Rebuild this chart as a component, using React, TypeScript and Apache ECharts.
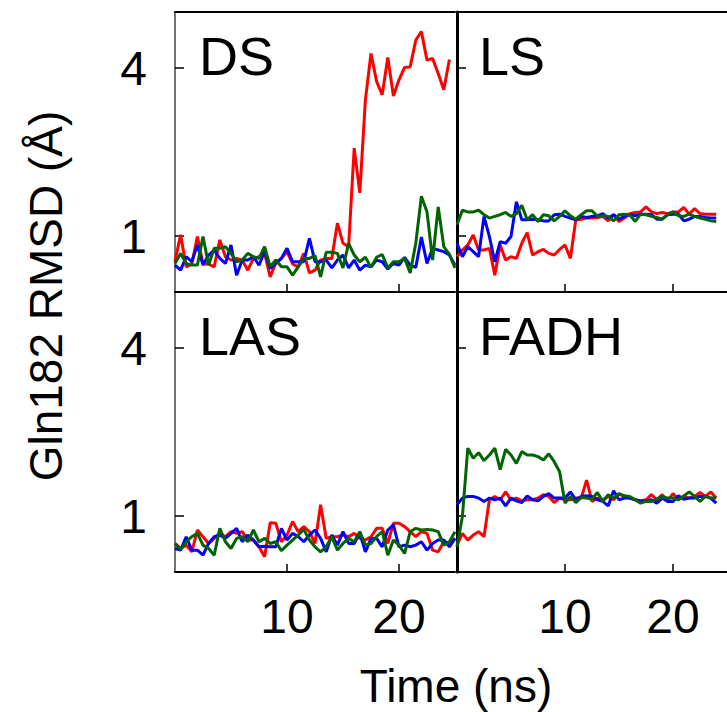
import React, { useEffect, useRef } from "react";
import * as echarts from "echarts";

// Time (ns), 0.5 ns sampling
const time = [
  0, 0.5, 1, 1.5, 2, 2.5, 3, 3.5, 4, 4.5, 5, 5.5, 6, 6.5, 7, 7.5, 8, 8.5, 9, 9.5,
  10, 10.5, 11, 11.5, 12, 12.5, 13, 13.5, 14, 14.5, 15, 15.5, 16, 16.5, 17, 17.5,
  18, 18.5, 19, 19.5, 20, 20.5, 21, 21.5, 22, 22.5, 23, 23.5, 24, 24.5, 25,
];

const xTicks = [10, 20];
const yTicks = [1, 4];
const panelNames = ["DS", "LS", "LAS", "FADH"];

// DS
const dsRed = [
  0.55, 1.02, 0.45, 0.5, 0.99, 0.5, 0.5, 0.45, 0.93, 0.63,
  0.57, 0.6, 0.57, 0.39, 0.6, 0.63, 0.69, 0.27, 0.52, 0.6,
  0.72, 0.5, 0.45, 0.69, 0.34, 0.39, 0.57, 0.6, 0.6, 1.23,
  0.87, 0.81, 2.57, 1.77, 3.43, 4.26, 3.76, 3.52, 4.19, 3.5,
  3.79, 4.01, 4.02, 4.5, 4.65, 4.14, 4.17, 3.9, 3.61, 4.15,
];
const dsBlue = [
  0.48, 0.39, 0.63, 0.54, 0.84, 0.48, 0.66, 0.75, 0.6, 0.51,
  0.84, 0.3, 0.57, 0.57, 0.63, 0.48, 0.72, 0.42, 0.51, 0.6,
  0.78, 0.54, 0.54, 0.54, 0.96, 0.54, 0.54, 0.57, 0.43, 0.57,
  0.66, 0.43, 0.57, 0.39, 0.48, 0.45, 0.57, 0.54, 0.41, 0.51,
  0.48, 0.62, 0.48, 0.44, 0.98, 0.51, 0.78, 0.75, 0.72, 0.66,
  0.48,
];
const dsGreen = [
  0.51, 0.69, 0.51, 0.48, 0.48, 0.99, 0.48, 0.78, 0.78, 0.81,
  0.69, 0.54, 0.57, 0.69, 0.63, 0.6, 0.81, 0.45, 0.57, 0.45,
  0.45, 0.3, 0.45, 0.6, 0.6, 0.65, 0.27, 0.71, 0.71, 0.69,
  0.43, 0.87, 0.66, 0.54, 0.62, 0.44, 0.62, 0.67, 0.43, 0.54,
  0.54, 0.6, 0.34, 0.87, 1.71, 1.43, 0.57, 1.52, 0.81, 0.67,
  0.43,
];

// LS
const lsRed = [
  0.63, 0.75, 0.84, 1.02, 0.75, 0.75, 0.78, 0.3, 0.84, 0.57,
  0.63, 0.6, 0.87, 1.06, 0.66, 0.72, 0.76, 0.69, 0.66, 0.76,
  0.84, 0.6, 1.29, 1.3, 1.32, 1.32, 1.33, 1.35, 1.27, 1.38,
  1.26, 1.32, 1.4, 1.42, 1.43, 1.52, 1.43, 1.4, 1.42, 1.4,
  1.43, 1.43, 1.51, 1.39, 1.49, 1.4, 1.39, 1.39, 1.39,
];
const lsBlue = [
  0.87, 0.63, 0.81, 0.72, 0.63, 1.35, 0.99, 0.54, 0.9, 0.87,
  0.99, 1.61, 1.29, 1.29, 1.3, 1.29, 1.27, 1.27, 1.38, 1.39,
  1.35, 1.32, 1.29, 1.35, 1.33, 1.35, 1.36, 1.4, 1.32, 1.38,
  1.3, 1.35, 1.38, 1.36, 1.39, 1.39, 1.38, 1.3, 1.3, 1.38,
  1.39, 1.39, 1.27, 1.3, 1.35, 1.35, 1.33, 1.32, 1.32,
];
const lsGreen = [
  1.2, 1.46, 1.43, 1.43, 1.46, 1.38, 1.32, 1.35, 1.38, 1.42,
  1.35, 1.4, 1.55, 1.29, 1.38, 1.26, 1.38, 1.36, 1.27, 1.35,
  1.45, 1.36, 1.3, 1.38, 1.45, 1.45, 1.35, 1.36, 1.35, 1.27,
  1.38, 1.39, 1.38, 1.26, 1.39, 1.38, 1.35, 1.33, 1.3, 1.38,
  1.43, 1.36, 1.35, 1.39, 1.35, 1.32, 1.3, 1.27, 1.26,
];

// LAS
const lasRed = [
  0.51, 0.42, 0.48, 0.36, 0.75, 0.63, 0.51, 0.6, 0.69, 0.63,
  0.72, 0.69, 0.72, 0.57, 0.57, 0.45, 0.27, 0.88, 0.87, 0.54,
  0.66, 0.9, 0.72, 0.81, 0.72, 0.51, 1.2, 0.6, 0.63, 0.63,
  0.66, 0.63, 0.69, 0.6, 0.57, 0.63, 0.78, 0.78, 0.51, 0.87,
  0.87, 0.81, 0.72, 0.63, 0.72, 0.69, 0.39, 0.36, 0.54, 0.51,
  0.6,
];
const lasBlue = [
  0.42, 0.39, 0.63, 0.39, 0.39, 0.3, 0.51, 0.63, 0.66, 0.6,
  0.69, 0.78, 0.54, 0.66, 0.57, 0.45, 0.46, 0.45, 0.45, 0.78,
  0.57, 0.69, 0.63, 0.54, 0.66, 0.75, 0.6, 0.36, 0.66, 0.48,
  0.72, 0.51, 0.51, 0.69, 0.36, 0.6, 0.6, 0.45, 0.75, 0.84,
  0.45, 0.48, 0.45, 0.48, 0.54, 0.39, 0.51, 0.57, 0.57, 0.45,
  0.6,
];
const lasGreen = [
  0.51, 0.4, 0.54, 0.63, 0.69, 0.48, 0.42, 0.3, 0.78, 0.54,
  0.42, 0.6, 0.63, 0.54, 0.75, 0.54, 0.6, 0.51, 0.54, 0.38,
  0.48, 0.57, 0.66, 0.76, 0.57, 0.45, 0.36, 0.45, 0.63, 0.39,
  0.51, 0.6, 0.54, 0.72, 0.48, 0.51, 0.63, 0.72, 0.3, 0.57,
  0.48, 0.33, 0.72, 0.78, 0.75, 0.76, 0.75, 0.72, 0.48, 0.54,
  0.72,
];

// FADH
const fadhRed = [
  0.48, 0.69, 0.57, 0.66, 0.72, 0.63, 1.29, 1.35, 1.29, 1.43,
  1.29, 1.32, 1.27, 1.29, 1.29, 1.32, 1.38, 1.35, 1.24, 1.32,
  1.29, 1.29, 1.32, 1.32, 1.64, 1.26, 1.32, 1.29, 1.35, 1.29,
  1.39, 1.35, 1.32, 1.29, 1.27, 1.29, 1.38, 1.29, 1.38, 1.27,
  1.4, 1.29, 1.35, 1.32, 1.35, 1.42, 1.35, 1.43, 1.32,
];
const fadhBlue = [
  1.2, 1.32, 1.35, 1.35, 1.32, 1.26, 1.32, 1.29, 1.32, 1.18,
  1.32, 1.27, 1.24, 1.36, 1.29, 1.27, 1.35, 1.4, 1.32, 1.32,
  1.32, 1.43, 1.29, 1.35, 1.36, 1.35, 1.29, 1.26, 1.18, 1.45,
  1.29, 1.32, 1.32, 1.29, 1.27, 1.27, 1.29, 1.23, 1.32, 1.26,
  1.26, 1.36, 1.3, 1.32, 1.32, 1.35, 1.35, 1.32, 1.23,
];
const fadhGreen = [
  0.45, 0.99, 2.21, 2.03, 2.13, 1.99, 2.09, 2.21, 1.83, 2.19,
  2.09, 1.94, 2.15, 2.09, 2.09, 2.06, 2.0, 2.11, 1.97, 1.79,
  1.23, 1.35, 1.24, 1.33, 1.32, 1.3, 1.42, 1.26, 1.38, 1.32,
  1.4, 1.36, 1.35, 1.29, 1.23, 1.26, 1.26, 1.3, 1.35, 1.32,
  1.32, 1.29, 1.36, 1.43, 1.35, 1.26, 1.35, 1.32, 1.32,
];

const panels = [
  [dsRed, dsBlue, dsGreen],
  [lsRed, lsBlue, lsGreen],
  [lasRed, lasBlue, lasGreen],
  [fadhRed, fadhBlue, fadhGreen],
];
const colors = ["#ff0000", "#0000ff", "#006400"];

const FONT = "Liberation Sans, Arial, Helvetica, sans-serif";

export default function App() {
  const ref = useRef<HTMLDivElement>(null);

  useEffect(() => {
    if (!ref.current) return;
    const chart = echarts.init(ref.current, null, { renderer: "svg" });

    const gridPos = [
      { left: 175, top: 12 },
      { left: 457, top: 12 },
      { left: 175, top: 292 },
      { left: 457, top: 292 },
    ];
    const grid = gridPos.map((p) => ({
      left: p.left,
      top: p.top,
      width: 280,
      height: 280,
      containLabel: false,
      show: false,
    }));

    const xAxis: any[] = [];
    const yAxis: any[] = [];
    gridPos.forEach((_, g) => {
      const isBottom = g >= 2;
      xAxis.push({
        type: "value",
        gridIndex: g,
        min: 0,
        max: 25,
        interval: 10,
        position: "bottom",
        splitLine: { show: false },
        axisLine: { show: true, onZero: false, lineStyle: { color: "#000", width: 2 } },
        axisTick: {
          show: true,
          inside: true,
          length: 8,
          customValues: xTicks,
          lineStyle: { color: "#000", width: 1.5 },
        },
        axisLabel: {
          show: isBottom,
          customValues: xTicks,
          fontSize: 48,
          fontFamily: FONT,
          color: "#000",
          margin: 20,
        },
      });
      if (!isBottom) {
        xAxis.push({
          type: "value",
          gridIndex: g,
          min: 0,
          max: 25,
          position: "top",
          splitLine: { show: false },
          axisLine: { show: true, onZero: false, lineStyle: { color: "#000", width: 2 } },
          axisTick: { show: false },
          axisLabel: { show: false },
        });
      }
      const isLeft = g % 2 === 0;
      yAxis.push({
        type: "value",
        gridIndex: g,
        min: 0,
        max: 5,
        splitLine: { show: false },
        axisLine: {
          show: true,
          onZero: false,
          lineStyle: isLeft ? { color: "#444", width: 1.5 } : { color: "#000", width: 3 },
        },
        axisTick: {
          show: true,
          inside: true,
          length: 9,
          customValues: yTicks,
          lineStyle: { color: "#000", width: 1.5 },
        },
        axisLabel: {
          show: isLeft,
          customValues: yTicks,
          fontSize: 48,
          fontFamily: FONT,
          color: "#000",
          margin: 28,
        },
      });
    });

    // map grid index -> its bottom xAxis index
    const xIdx = [0, 2, 4, 5];
    const series: any[] = [];
    panels.forEach((sets, g) => {
      sets.forEach((vals, k) => {
        series.push({
          type: "line",
          xAxisIndex: xIdx[g],
          yAxisIndex: g,
          data: vals.map((v, i) => [time[i], v]),
          showSymbol: false,
          symbol: "none",
          clip: true,
          lineStyle: { color: colors[k], width: 3 },
          z: 2 + k,
        });
      });
    });

    const labelPos = [
      { x: 199, y: 56 },
      { x: 479, y: 56 },
      { x: 199, y: 336 },
      { x: 479, y: 336 },
    ];
    const graphic: any[] = panelNames.map((name, i) => ({
      type: "text",
      x: labelPos[i].x,
      y: labelPos[i].y,
      z: 10,
      style: {
        text: name,
        font: `54px ${FONT}`,
        fill: "#000",
        align: "left",
        verticalAlign: "middle",
      },
    }));
    graphic.push({
      type: "text",
      x: 456,
      y: 686,
      style: {
        text: "Time (ns)",
        font: `46px ${FONT}`,
        fill: "#000",
        align: "center",
        verticalAlign: "middle",
      },
    });
    graphic.push({
      type: "text",
      x: 46,
      y: 296,
      rotation: Math.PI / 2,
      style: {
        text: "Gln182 RMSD (Å)",
        font: `46px ${FONT}`,
        fill: "#000",
        align: "center",
        verticalAlign: "middle",
      },
    });

    chart.setOption({
      animation: false,
      backgroundColor: "#fff",
      grid,
      xAxis,
      yAxis,
      series,
      graphic,
    });

    return () => chart.dispose();
  }, []);

  return (
    <div
      ref={ref}
      style={{ position: "fixed", left: 0, top: 0, width: 727, height: 712 }}
    />
  );
}
